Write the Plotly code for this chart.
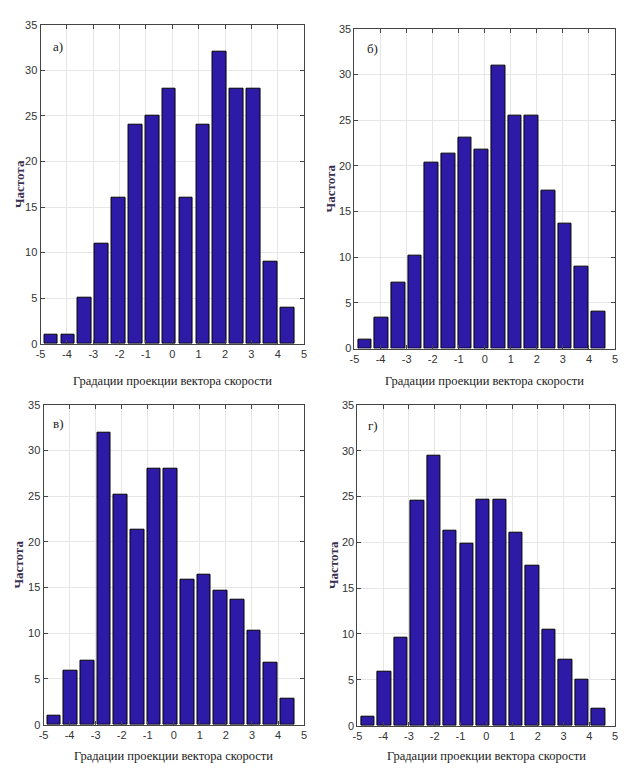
import plotly.graph_objects as go

bin_centers = [-4.6, -3.96, -3.32, -2.68, -2.04, -1.40, -0.76, -0.12,
               0.52, 1.16, 1.80, 2.44, 3.08, 3.72, 4.36]

freq_a = [1, 1, 5, 11, 16, 24, 25, 28, 16, 24, 32, 28, 28, 9, 4]
freq_b = [1, 3.4, 7.2, 10.2, 20.4, 21.3, 23.1, 21.8, 31, 25.5, 25.5, 17.3, 13.7, 9, 4]
freq_v = [1, 5.9, 7, 32, 25.2, 21.3, 28, 28, 15.9, 16.4, 14.7, 13.7, 10.3, 6.8, 2.8]
freq_g = [1, 5.9, 9.6, 24.5, 29.4, 21.3, 19.9, 24.6, 24.6, 21.1, 17.5, 10.5, 7.2, 5, 1.8]

panel_labels = ["а)", "б)", "в)", "г)"]
x_ticks = [-5, -4, -3, -2, -1, 0, 1, 2, 3, 4, 5]
y_ticks = [0, 5, 10, 15, 20, 25, 30, 35]
x_title = "Градации проекции вектора скорости"
y_title = "Частота"

W, H = 624, 773
# plot areas in pixels: (left, right, top, bottom)
areas = [(36, 303, 19, 343), (354, 618, 23, 348), (39, 303, 405, 730), (357, 618, 405, 731)]
label_pos = [(-4.62, 32.6), (-4.6, 32.8), (-4.72, 33.0), (-4.68, 32.7)]
xtitle_y = [381, 381, 762, 762]
ytitle_x = [14, 330, 14, 332]

series = [freq_a, freq_b, freq_v, freq_g]
fig = go.Figure()
tick_font = dict(family="Liberation Sans Narrow, Liberation Sans, Arial", size=11, color="#333333")
serif = "Liberation Serif, DejaVu Serif, Times New Roman, serif"

for i, (vals, (l, r, t, b)) in enumerate(zip(series, areas)):
    xa = "x" if i == 0 else f"x{i+1}"
    ya = "y" if i == 0 else f"y{i+1}"
    fig.add_trace(go.Bar(x=bin_centers, y=vals, width=0.52, xaxis=xa, yaxis=ya,
                         marker=dict(color="#2d1ba8", line=dict(color="#000000", width=1)),
                         showlegend=False))
    xkey = "xaxis" if i == 0 else f"xaxis{i+1}"
    ykey = "yaxis" if i == 0 else f"yaxis{i+1}"
    fig.update_layout(**{
        xkey: dict(domain=[l / W, r / W], anchor=ya, range=[-5.002, 5.002], tickvals=x_ticks,
                   ticktext=[str(v) for v in x_ticks], ticklabeloverflow="allow",
                   showgrid=True, gridcolor="#e6e6e6", gridwidth=1, zeroline=False,
                   showline=True, linecolor="#444444", linewidth=1, mirror="ticks",
                   ticks="inside", ticklen=4, tickcolor="#444444", tickfont=tick_font),
        ykey: dict(domain=[1 - b / H, 1 - t / H], anchor=xa, range=[0, 35.01], tickvals=y_ticks,
                   showgrid=True, gridcolor="#e6e6e6", gridwidth=1, zeroline=False,
                   showline=True, linecolor="#444444", linewidth=1, mirror="ticks",
                   ticks="inside", ticklen=4, tickcolor="#444444", tickfont=tick_font),
    })
    fig.add_annotation(x=label_pos[i][0], y=label_pos[i][1], xref=xa, yref=ya,
                       text=panel_labels[i], showarrow=False, xanchor="left", yanchor="middle",
                       font=dict(family=serif, size=13, color="#222222"))
    fig.add_annotation(x=(l + r) / 2 / W, y=1 - xtitle_y[i] / H, xref="paper", yref="paper",
                       text=x_title, showarrow=False, xanchor="center", yanchor="middle",
                       font=dict(family=serif, size=12.5, color="#222222"))
    fig.add_annotation(x=ytitle_x[i] / W, y=1 - (t + b) / 2 / H, xref="paper", yref="paper",
                       text="<b>" + y_title + "</b>", showarrow=False, textangle=-90,
                       xanchor="center", yanchor="middle",
                       font=dict(family=serif, size=13, color="#3a3050"))

fig.update_layout(width=W, height=H, margin=dict(l=0, r=0, t=0, b=0),
                  paper_bgcolor="white", plot_bgcolor="white", bargap=0)
fig.write_html("out.html", config={"displayModeBar": False},
               post_script="document.body.style.margin='0';document.body.style.overflow='hidden';")
